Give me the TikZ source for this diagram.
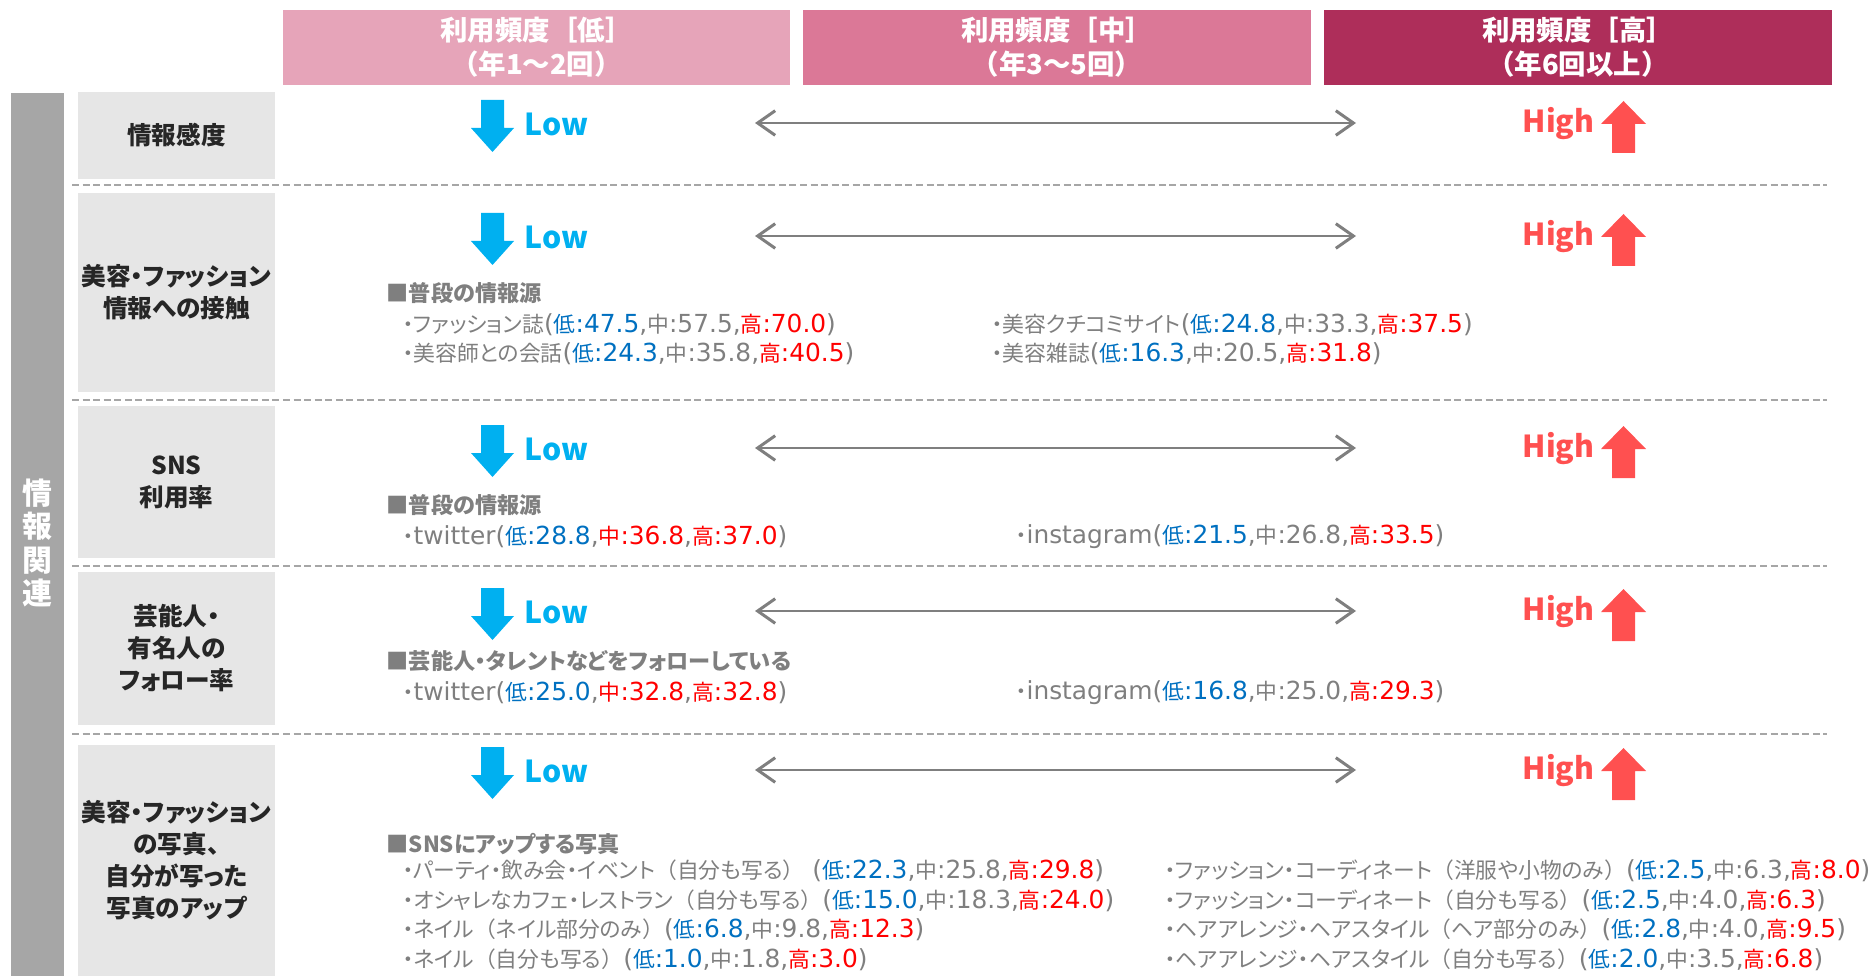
\documentclass[tikz,border=0pt]{standalone}
\usepackage{fontspec}
\setmainfont{Noto Sans CJK JP}[RawFeature=+palt]
\newfontfamily\hdfont{Noto Sans CJK JP}
\newfontfamily\latn{DejaVu Sans}[Scale=1.14]
\usepackage{tikz}
\usetikzlibrary{arrows.meta}

\definecolor{hdlowc}{HTML}{E6A4B9}
\definecolor{hdmidc}{HTML}{DB7897}
\definecolor{hdhighc}{HTML}{AE2E5A}
\definecolor{sidegray}{HTML}{A6A6A6}
\definecolor{boxgray}{HTML}{E6E6E6}
\definecolor{txtgray}{HTML}{7F7F7F}
\definecolor{lowblue}{HTML}{00B0F0}
\definecolor{highred}{HTML}{FF5050}
\definecolor{valblue}{HTML}{0070C0}
\definecolor{valred}{HTML}{FF0000}

% 数値の表記（低・中・高）
\newcommand{\vlow}[1]{\textcolor{valblue}{低{\latn:#1}}}
\newcommand{\vhigh}[1]{\textcolor{valred}{高{\latn:#1}}}
\newcommand{\vals}[3]{{\latn(}\vlow{#1}{\latn,}中{\latn:#2,}\vhigh{#3}{\latn)}}
\newcommand{\valsr}[3]{{\latn(}\vlow{#1}{\latn,}\textcolor{valred}{中{\latn:#2}}{\latn,}\vhigh{#3}{\latn)}}
% 全角の括弧
\newcommand{\lpar}{{\hdfont（}}
\newcommand{\rpar}{{\hdfont）}}

\tikzstyle{header}=[minimum width=5.07cm, minimum height=0.75cm, inner sep=0, text=white, align=center, font=\hdfont\fontsize{7.8}{9.7}\selectfont\bfseries]
\tikzstyle{itembox}=[fill=boxgray, minimum width=1.97cm, inner sep=0, align=center, text=black!85, font=\fontsize{7}{9.1}\selectfont\bfseries]
\tikzstyle{sidetxt}=[inner sep=0, align=center, text=white, font=\fontsize{8.5}{9.4}\selectfont\bfseries]
\tikzstyle{srctitle}=[anchor=west, inner sep=0, text=txtgray, font=\fontsize{6.3}{8}\selectfont\bfseries]
\tikzstyle{datatxt}=[anchor=west, inner sep=0, align=left, text=txtgray, font=\fontsize{6.2}{8.4}\selectfont]
\tikzstyle{lowtxt}=[anchor=west, inner sep=0, text=lowblue, font=\fontsize{8.6}{10}\selectfont\bfseries]
\tikzstyle{hightxt}=[anchor=east, inner sep=0, text=highred, font=\fontsize{8.6}{10}\selectfont\bfseries]
\tikzstyle{rangearrow}=[{Straight Barb[length=5pt,width=7pt]}-{Straight Barb[length=5pt,width=7pt]}, draw=txtgray, line width=0.85pt]
\tikzstyle{sepline}=[draw=sidegray, line width=0.7pt, dash pattern=on 2pt off 1pt]

\begin{document}
\begin{tikzpicture}[x=0.01cm, y=-0.01cm]
  \useasboundingbox (0,0) rectangle (1872,976);

  % 利用頻度の見出し
  \node[header, fill=hdlowc] (hdlow) at (536.5,47.5) {利用頻度［低］\\（年1～2回）};
  \node[header, fill=hdmidc] (hdmid) at (1057,47.5) {利用頻度［中］\\（年3～5回）};
  \node[header, fill=hdhighc] (hdhigh) at (1578,47.5) {利用頻度［高］\\（年6回以上）};

  % 左端の帯
  \fill[sidegray] (11,93) rectangle (64,976);
  \node[sidetxt] (side) at (37.5,543) {情\\報\\関\\連};

  % 項目の箱
  \node[itembox, minimum height=0.87cm] (item1) at (176.5,135.5) {情報感度};
  \node[itembox, minimum height=1.99cm] (item2) at (176.5,292.5) {美容・ファッション\\情報への接触};
  \node[itembox, minimum height=1.52cm] (item3) at (176.5,482) {SNS\\利用率};
  \node[itembox, minimum height=1.53cm] (item4) at (176.5,648.5) {芸能人・\\有名人の\\フォロー率};
  \node[itembox, minimum height=2.31cm] (item5) at (176.5,860.5) {美容・ファッション\\の写真、\\自分が写った\\写真のアップ};

  % 区切り線
  \foreach \y in {185,400,566,734}
    \draw[sepline] (72,\y) -- (1827,\y);

  % Low・High の矢印
  \foreach \t [count=\i, evaluate=\t as \m using \t+24] in {100,213,425,588,747} {
    \fill[lowblue] (481,\t) -- ++(23,0) -- ++(0,28) -- ++(10,0) -- ++(-21.5,24) -- ++(-21.5,-24) -- ++(10,0) -- cycle;
    \node[lowtxt] (low\i) at (524,\m) {Low};
    \coordinate (al\i) at (755,\m-1);
    \coordinate (ar\i) at (1356,\m-1);
    \draw[rangearrow] (al\i) -- (ar\i);
    \node[hightxt] (high\i) at (1595,\m) {High};
    \fill[highred] (1623.5,\t+1) -- ++(22.5,23) -- ++(-11,0) -- ++(0,29) -- ++(-23,0) -- ++(0,-29) -- ++(-11,0) -- cycle;
  }

  % 美容・ファッション情報への接触
  \node[srctitle] (src2) at (386,293) {■普段の情報源};
  \node[datatxt] (d2l) at (402,339) {・ファッション誌\vals{47.5}{57.5}{70.0}\\・美容師との会話\vals{24.3}{35.8}{40.5}};
  \node[datatxt] (d2r) at (991,339) {・美容クチコミサイト\vals{24.8}{33.3}{37.5}\\・美容雑誌\vals{16.3}{20.5}{31.8}};

  % SNS利用率
  \node[srctitle] (src3) at (386,505) {■普段の情報源};
  \node[datatxt] (d3l) at (402,537) {・{\latn twitter}\valsr{28.8}{36.8}{37.0}};
  \node[datatxt] (d3r) at (1015,537) {・{\latn instagram}\vals{21.5}{26.8}{33.5}};

  % フォロー率
  \node[srctitle] (src4) at (386,661) {■芸能人・タレントなどをフォローしている};
  \node[datatxt] (d4l) at (402,693) {・{\latn twitter}\valsr{25.0}{32.8}{32.8}};
  \node[datatxt] (d4r) at (1015,693) {・{\latn instagram}\vals{16.8}{25.0}{29.3}};

  % 写真のアップ
  \node[srctitle] (src5) at (386,844) {■SNSにアップする写真};
  \node[datatxt] (d5l) at (402,915) {・パーティ・飲み会・イベント\lpar 自分も写る\rpar{\latn\ }\vals{22.3}{25.8}{29.8}\\・オシャレなカフェ・レストラン\lpar 自分も写る\rpar\vals{15.0}{18.3}{24.0}\\・ネイル\lpar ネイル部分のみ\rpar\vals{6.8}{9.8}{12.3}\\・ネイル\lpar 自分も写る\rpar\vals{1.0}{1.8}{3.0}};
  \node[datatxt] (d5r) at (1164,915) {・ファッション・コーディネート\lpar 洋服や小物のみ\rpar\vals{2.5}{6.3}{8.0}\\・ファッション・コーディネート\lpar 自分も写る\rpar\vals{2.5}{4.0}{6.3}\\・ヘアアレンジ・ヘアスタイル\lpar ヘア部分のみ\rpar\vals{2.8}{4.0}{9.5}\\・ヘアアレンジ・ヘアスタイル\lpar 自分も写る\rpar\vals{2.0}{3.5}{6.8}};
\end{tikzpicture}
\end{document}
